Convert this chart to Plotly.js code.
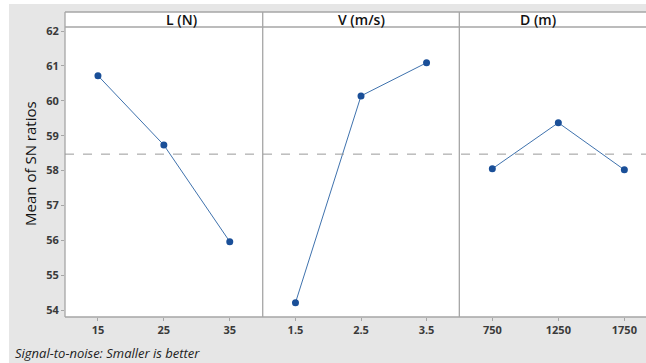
<!DOCTYPE html>
<html>
<head>
<meta charset="utf-8">
<script src="https://cdn.plot.ly/plotly-3.0.1.min.js"></script>
<style>
html,body{margin:0;padding:0;background:#ffffff;width:646px;height:363px;overflow:hidden;}
#chart{position:absolute;left:9px;top:4px;width:637px;height:359px;}
</style>
</head>
<body>
<div id="chart"></div>
<script>
// Data
var factorNames = ["L (N)", "V (m/s)", "D (m)"];
var levelsL = [15, 25, 35];
var snL = [60.72, 58.73, 55.96];
var levelsV = [1.5, 2.5, 3.5];
var snV = [54.21, 60.14, 61.09];
var levelsD = [750, 1250, 1750];
var snD = [58.05, 59.37, 58.02];
var yTicks = [54, 55, 56, 57, 58, 59, 60, 61, 62];

var grandMean = snL.reduce(function(a,b){return a+b;},0)/snL.length;

var lineColor = "#3f72ad";
var markerColor = "#1a4f98";
var borderColor = "#a6a6a6";
var d1 = 0.3403, d2 = 0.6787;
var yTop = 0.9508;

function tr(x, y, ax) {
  return {x: x, y: y, xaxis: ax, yaxis: "y", type: "scatter", mode: "lines+markers",
    line: {color: lineColor, width: 1}, marker: {color: markerColor, size: 7},
    showlegend: false, hoverinfo: "x+y"};
}

var data = [tr(levelsL, snL, "x"), tr(levelsV, snV, "x2"), tr(levelsD, snD, "x3")];

var tickFont = {family: "Open Sans, sans-serif", size: 11, color: "#3a3a3a", weight: "bold"};

function xa(domain, range, vals) {
  return {domain: domain, range: range, tickvals: vals, ticktext: vals.map(String),
    ticks: "outside", ticklen: 3, tickcolor: borderColor, showgrid: false, zeroline: false,
    showline: false, tickfont: tickFont, anchor: "y", fixedrange: true};
}

var shapes = [
  {type: "rect", xref: "paper", yref: "paper", x0: 0, x1: 1.02, y0: yTop, y1: 1,
   fillcolor: "#ffffff", line: {width: 0}, layer: "below"},
  {type: "line", xref: "paper", yref: "paper", x0: 0, x1: 0, y0: 0, y1: 1, line: {color: borderColor, width: 1.3}},
  {type: "line", xref: "paper", yref: "paper", x0: 0, x1: 1, y0: 0, y1: 0, line: {color: borderColor, width: 1.3}},
  {type: "line", xref: "paper", yref: "paper", x0: 0, x1: 1, y0: 1, y1: 1, line: {color: borderColor, width: 1.3}},
  {type: "line", xref: "paper", yref: "paper", x0: 0, x1: 1, y0: yTop, y1: yTop, line: {color: borderColor, width: 1.3}},
  {type: "line", xref: "paper", yref: "paper", x0: d1, x1: d1, y0: 0, y1: 1, line: {color: borderColor, width: 1.3}},
  {type: "line", xref: "paper", yref: "paper", x0: d2, x1: d2, y0: 0, y1: 1, line: {color: borderColor, width: 1.3}},
  {type: "line", xref: "paper", yref: "y", x0: 0, x1: 1, y0: grandMean, y1: grandMean,
   line: {color: "#9a9a9a", width: 1, dash: "dash"}}
];

var headFont = {family: "Open Sans, sans-serif", size: 14, color: "#111", weight: 600};
var annotations = [
  {text: factorNames[0], xref: "paper", yref: "paper", x: d1/2, y: (1+yTop)/2, showarrow: false,
   font: headFont, yanchor: "middle"},
  {text: factorNames[1], xref: "paper", yref: "paper", x: (d1+d2)/2, y: (1+yTop)/2, showarrow: false,
   font: headFont, yanchor: "middle"},
  {text: factorNames[2], xref: "paper", yref: "paper", x: d2 + 0.1692, y: (1+yTop)/2, showarrow: false,
   font: headFont, yanchor: "middle"},
  {text: "Mean of SN ratios", xref: "paper", yref: "paper", x: 0, y: 0.502, xshift: -35, textangle: -90,
   showarrow: false, font: {family: "Open Sans, sans-serif", size: 15, color: "#111"}, xanchor: "center", yanchor: "middle"},
  {text: "<i>Signal-to-noise: Smaller is better</i>", xref: "paper", yref: "paper", x: 0, y: 0, xshift: -52, yshift: -36,
   xanchor: "left", yanchor: "middle", showarrow: false,
   font: {family: "Open Sans, sans-serif", size: 13, color: "#222"}}
];

var layout = {
  width: 637, height: 359,
  margin: {l: 56, r: 0, t: 8, b: 46, pad: 0},
  paper_bgcolor: "#e6e6e6", plot_bgcolor: "#ffffff",
  xaxis: xa([0, d1], [10, 40], levelsL),
  xaxis2: xa([d1, d2], [1, 4], levelsV),
  xaxis3: xa([d2, 1], [500, 1914], levelsD),
  yaxis: {domain: [0, yTop], range: [53.80, 62.115], tickvals: yTicks, ticktext: yTicks.map(String),
    ticks: "outside", ticklen: 3, tickcolor: borderColor, showgrid: false, zeroline: false,
    showline: false, tickfont: tickFont, anchor: "x", fixedrange: true},
  shapes: shapes,
  annotations: annotations
};

Plotly.newPlot("chart", data, layout, {displayModeBar: false, staticPlot: true});
</script>
</body>
</html>
